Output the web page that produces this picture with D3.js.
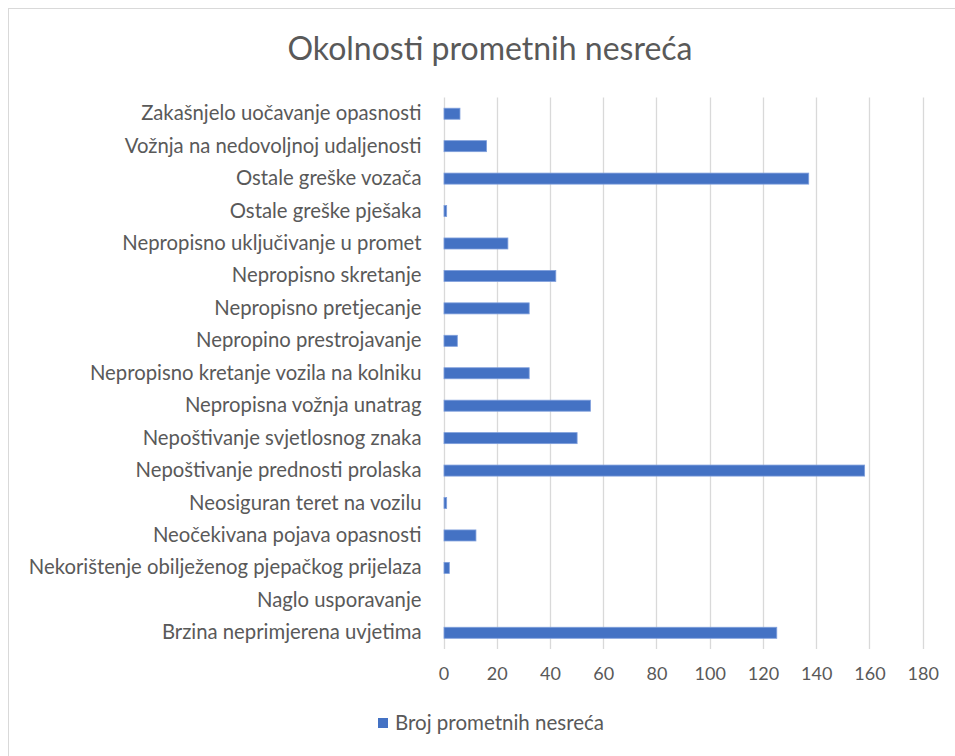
<!DOCTYPE html>
<html>
<head>
<meta charset="utf-8">
<script src="https://cdn.jsdelivr.net/npm/d3@7"></script>
<style>
  html, body { margin: 0; padding: 0; background: #fff; }
  svg { display: block; }
  text { font-family: Lato, "Open Sans", sans-serif; fill: #595959; }
</style>
</head>
<body>
<svg id="chart" width="955" height="756"></svg>
<script>
const title = "Okolnosti prometnih nesreća";
const seriesName = "Broj prometnih nesreća";
const categories = [
  "Zakašnjelo uočavanje opasnosti",
  "Vožnja na nedovoljnoj udaljenosti",
  "Ostale greške vozača",
  "Ostale greške pješaka",
  "Nepropisno uključivanje u promet",
  "Nepropisno skretanje",
  "Nepropisno pretjecanje",
  "Nepropino prestrojavanje",
  "Nepropisno kretanje vozila na kolniku",
  "Nepropisna vožnja unatrag",
  "Nepoštivanje svjetlosnog znaka",
  "Nepoštivanje prednosti prolaska",
  "Neosiguran teret na vozilu",
  "Neočekivana pojava opasnosti",
  "Nekorištenje obilježenog pjepačkog prijelaza",
  "Naglo usporavanje",
  "Brzina neprimjerena uvjetima"
];
const values = [6, 16, 137, 1, 24, 42, 32, 5, 32, 55, 50, 158, 1, 12, 2, 0, 125];
const xTicks = [0, 20, 40, 60, 80, 100, 120, 140, 160, 180];

const svg = d3.select("#chart");

// chart border
svg.append("rect")
  .attr("x", 8.5).attr("y", 8.5)
  .attr("width", 960).attr("height", 760)
  .attr("fill", "none").attr("stroke", "#d9d9d9").attr("stroke-width", 1);

const plot = { left: 443.5, right: 922.7, top: 97.5, bottom: 649 };

const x = d3.scaleLinear().domain([0, 180]).range([plot.left, plot.right]);
const y = d3.scaleBand().domain(categories).range([plot.top, plot.bottom]).paddingInner(0.66).paddingOuter(0.33);

// title
svg.append("text")
  .attr("x", 490).attr("y", 60)
  .attr("text-anchor", "middle")
  .style("font-size", "32px")
  .text(title);

// gridlines
svg.append("g")
  .selectAll("line")
  .data(xTicks)
  .join("line")
  .attr("x1", d => Math.round(x(d)) + 0.5)
  .attr("x2", d => Math.round(x(d)) + 0.5)
  .attr("y1", plot.top)
  .attr("y2", plot.bottom)
  .attr("stroke", "#d9d9d9")
  .attr("stroke-width", 1.3);

// x axis labels
const xAxis = d3.axisBottom(x).tickValues(xTicks).tickSize(0).tickPadding(0);
const gx = svg.append("g").attr("transform", `translate(0,${plot.bottom + 18})`).call(xAxis);
gx.select(".domain").remove();
gx.selectAll("text")
  .attr("dy", "0.71em")
  .style("font-family", "Lato, sans-serif")
  .style("font-size", "18px")
  .attr("fill", "#595959");

// y axis labels
const yAxis = d3.axisLeft(y).tickSize(0).tickPadding(22);
const gy = svg.append("g").attr("transform", `translate(${plot.left},0)`).call(yAxis);
gy.select(".domain").remove();
gy.selectAll("text")
  .style("font-family", "Lato, sans-serif")
  .style("font-size", "20.3px")
  .attr("fill", "#595959");

// bars
svg.append("g")
  .selectAll("rect")
  .data(values.map((v, i) => ({ v, c: categories[i] })).filter(d => d.v > 0))
  .join("rect")
  .attr("x", x(0) + 0.5)
  .attr("y", d => y(d.c))
  .attr("width", d => x(d.v) - x(0))
  .attr("height", y.bandwidth())
  .attr("fill", "#4472C4")
  .attr("stroke", "#7f9fdc")
  .attr("stroke-width", 0.8);

// legend
const legend = svg.append("g");
legend.append("rect")
  .attr("x", 378).attr("y", 718)
  .attr("width", 10).attr("height", 10)
  .attr("fill", "#4472C4");
legend.append("text")
  .attr("x", 395).attr("y", 723)
  .attr("dy", "0.35em")
  .style("font-size", "20.5px")
  .text(seriesName);
</script>
</body>
</html>
